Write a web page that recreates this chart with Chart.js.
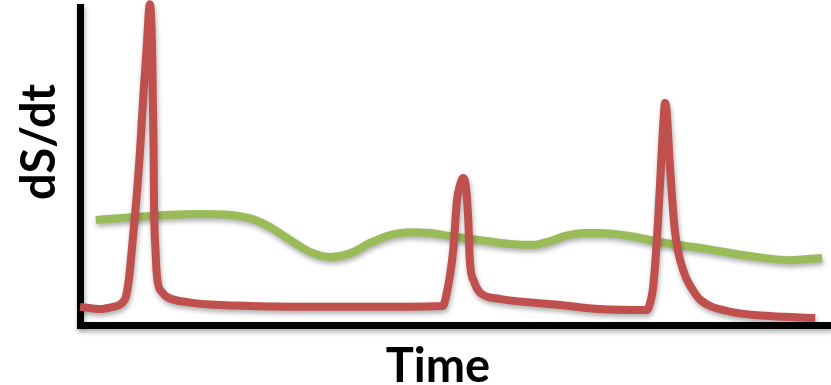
<!DOCTYPE html>
<html>
<head>
<meta charset="utf-8">
<script src="https://cdn.jsdelivr.net/npm/chart.js@4.4.1/dist/chart.umd.min.js"></script>
<style>
  html, body { margin: 0; padding: 0; background: #ffffff; }
  #wrap { width: 831px; height: 385px; }
</style>
</head>
<body>
<div id="wrap"><canvas id="c" width="831" height="385"></canvas></div>
<script>
// Data (time in arbitrary units 0-100, dS/dt in arbitrary units 0-100)
const redTime  = [0, 2.7, 4.4, 5.2, 5.7, 6.1, 6.5, 6.9, 7.5, 8.0, 8.4, 8.9, 9.3, 9.6, 9.7, 9.8, 9.85, 10.05, 10.3, 10.9, 11.6, 14.3, 18.6, 36.0, 48.3, 48.7, 49.7, 50.2, 50.6, 51.0, 51.4, 51.7, 51.9, 52.5, 53.3, 55.9, 63.9, 69.2, 75.5, 75.9, 76.3, 76.9, 77.4, 77.7, 77.9, 78.1, 78.5, 79.2, 80.3, 81.6, 82.6, 86.2, 91.9, 97.9];
const redValue = [5.7, 5.0, 5.7, 6.3, 7.2, 8.8, 14.2, 23.6, 39.3, 55.0, 70.8, 88.1, 100.9, 86.5, 70.8, 55.0, 39.3, 23.6, 14.2, 10.4, 8.8, 7.2, 6.3, 5.7, 6.0, 8.5, 23.6, 39.3, 44.0, 46.2, 43.1, 33.0, 20.4, 13.5, 10.1, 8.2, 6.3, 5.0, 4.7, 6.9, 11.6, 29.9, 51.9, 64.5, 69.8, 67.6, 51.9, 29.9, 17.3, 11.0, 7.9, 4.4, 2.8, 2.2];
const greenTime  = [2.1, 9.3, 16.0, 20.0, 23.0, 25.3, 28.0, 30.6, 33.3, 36.0, 38.6, 41.3, 43.9, 46.6, 49.3, 53.3, 57.3, 60.3, 62.6, 64.6, 67.2, 69.2, 73.2, 77.2, 82.6, 89.2, 94.5, 98.8];
const greenValue = [33.0, 34.3, 34.9, 34.6, 33.3, 30.8, 26.7, 23.0, 21.4, 22.6, 25.8, 28.3, 29.2, 28.9, 28.0, 26.7, 25.5, 25.2, 26.4, 28.0, 28.9, 28.9, 28.0, 26.1, 24.2, 21.7, 20.4, 21.1];
const xTitle = "Time";
const yTitle = "dS/dt";

const toPoints = (xs, ys) => xs.map((x, i) => ({ x: x, y: ys[i] }));

const shadowPlugin = {
  id: 'shadow',
  beforeDraw(chart) {
    const ctx = chart.ctx;
    ctx.save();
    ctx.shadowColor = 'rgba(0,0,0,0.32)';
    ctx.shadowBlur = 5;
    ctx.shadowOffsetX = 1;
    ctx.shadowOffsetY = 3;
  },
  afterDatasetsDraw(chart) {
    chart.ctx.restore();
  },
  afterDraw(chart) {
    const ctx = chart.ctx;
    const a = chart.chartArea;
    ctx.save();
    ctx.fillStyle = '#000000';
    ctx.font = 'bold 47px Lato, "Open Sans", sans-serif';
    ctx.textAlign = 'center';
    ctx.textBaseline = 'alphabetic';
    ctx.fillText(xTitle, a.left + 358, a.bottom + 57);
    ctx.translate(a.left - 25, a.top + 135);
    ctx.rotate(-Math.PI / 2);
    ctx.fillText(yTitle, 0, 0);
    ctx.restore();
  }
};

new Chart(document.getElementById('c'), {
  type: 'line',
  data: {
    datasets: [
      {
        data: toPoints(greenTime, greenValue),
        borderColor: '#9BBB59',
        borderWidth: 8,
        pointRadius: 0,
        cubicInterpolationMode: 'monotone',
        borderCapStyle: 'butt',
        borderJoinStyle: 'round',
        clip: false,
        order: 2
      },
      {
        data: toPoints(redTime, redValue),
        borderColor: '#C0504D',
        borderWidth: 8,
        pointRadius: 0,
        cubicInterpolationMode: 'monotone',
        borderCapStyle: 'butt',
        borderJoinStyle: 'round',
        clip: false,
        order: 1
      }
    ]
  },
  options: {
    responsive: false,
    animation: false,
    events: [],
    layout: { padding: { left: 80, top: 7, right: 0, bottom: 60 } },
    plugins: { legend: { display: false }, tooltip: { enabled: false } },
    scales: {
      x: {
        type: 'linear', min: 0, max: 100,
        ticks: { display: false },
        grid: { drawOnChartArea: false, drawTicks: false, color: 'rgba(0,0,0,0)' },
        border: { display: true, color: '#000000', width: 7 }
      },
      y: {
        type: 'linear', min: 0, max: 100,
        ticks: { display: false },
        grid: { drawOnChartArea: false, drawTicks: false, color: 'rgba(0,0,0,0)' },
        border: { display: true, color: '#000000', width: 7 }
      }
    }
  },
  plugins: [shadowPlugin]
});
</script>
</body>
</html>
